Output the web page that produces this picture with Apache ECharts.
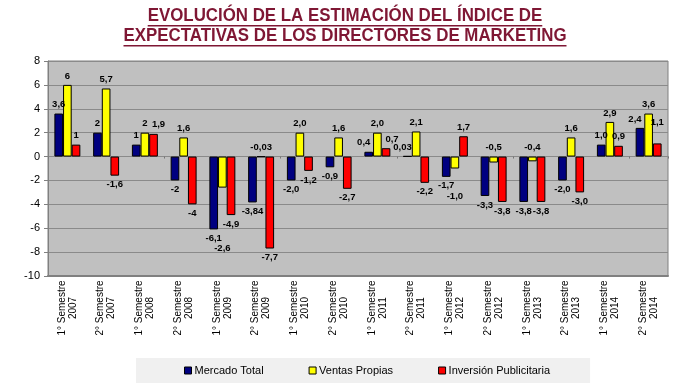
<!DOCTYPE html>
<html>
<head>
<meta charset="utf-8">
<script src="https://cdn.jsdelivr.net/npm/echarts@6/dist/echarts.min.js"></script>
<style>
html,body{margin:0;padding:0;background:#fff;}
#chart{width:690px;height:392px;}
</style>
</head>
<body>
<div id="chart"></div>
<script>
const titleLines = ['EVOLUCIÓN DE LA ESTIMACIÓN DEL ÍNDICE DE', 'EXPECTATIVAS DE LOS DIRECTORES DE MARKETING'];
const categories = [
  '1° Semestre\n2007','2° Semestre\n2007','1° Semestre\n2008','2° Semestre\n2008',
  '1° Semestre\n2009','2° Semestre\n2009','1° Semestre\n2010','2° Semestre\n2010',
  '1° Semestre\n2011','2° Semestre\n2011','1° Semestre\n2012','2° Semestre\n2012',
  '1° Semestre\n2013','2° Semestre\n2013','1° Semestre\n2014','2° Semestre\n2014'
];
const seriesNames = ['Mercado Total', 'Ventas Propias', 'Inversión Publicitaria'];
const mercadoTotal = [3.6, 2, 1, -2, -6.1, -3.84, -2.0, -0.9, 0.4, 0.03, -1.7, -3.3, -3.8, -2.0, 1.0, 2.4];
const ventasPropias = [6, 5.7, 2, 1.6, -2.6, -0.03, 2.0, 1.6, 2.0, 2.1, -1.0, -0.5, -0.4, 1.6, 2.9, 3.6];
const inversionPublicitaria = [1, -1.6, 1.9, -4, -4.9, -7.7, -1.2, -2.7, 0.7, -2.2, 1.7, -3.8, -3.8, -3.0, 0.9, 1.1];
const mercadoLabels = ['3,6','2','1','-2','-6,1','-3,84','-2,0','-0,9','0,4','0,03','-1,7','-3,3','-3,8','-2,0','1,0','2,4'];
const ventasLabels = ['6','5,7','2','1,6','-2,6','-0,03','2,0','1,6','2,0','2,1','-1,0','-0,5','-0,4','1,6','2,9','3,6'];
const inversionLabels = ['1','-1,6','1,9','-4','-4,9','-7,7','-1,2','-2,7','0,7','-2,2','1,7','-3,8','-3,8','-3,0','0,9','1,1'];
const yTicks = [-10, -8, -6, -4, -2, 0, 2, 4, 6, 8];

// label placement tweaks (style only)
const labelTweaks = {
  '0:8': {offset: [-5, 0]},
  '0:9': {offset: [-5, 0]},
  '0:15': {offset: [-5, 0]},
  '1:4': {offset: [0, 52]},
  '1:5': {position: 'top'},
  '1:10': {offset: [0, 19]},
  '1:11': {position: 'top'},
  '1:12': {position: 'top'},
  '2:2': {offset: [5, 0]},
  '2:8': {offset: [6, 0]},
  '2:15': {offset: [0, -12]}
};

const FONT = 'Arial, "Liberation Sans", sans-serif';
const colors = ['#000080', '#ffff00', '#ff0000'];
const values = [mercadoTotal, ventasPropias, inversionPublicitaria];
const labels = [mercadoLabels, ventasLabels, inversionLabels];

function buildData(si) {
  return values[si].map(function (v, i) {
    const tw = labelTweaks[si + ':' + i] || {};
    return {
      value: v,
      label: {
        position: tw.position || (v >= 0 ? 'top' : 'bottom'),
        offset: tw.offset || [0, 0],
        formatter: labels[si][i]
      }
    };
  });
}

// title (condensed look via horizontal scaling) with underline
const titleSize = 18;
const titleFont = 'bold ' + titleSize + 'px ' + FONT;
const cv = document.createElement('canvas').getContext('2d');
cv.font = titleFont;
const titleTargetWidth = 443;
const sx = titleTargetWidth / cv.measureText(titleLines[1]).width;
const titleColor = '#7f1734';
const titleCenterX = 345;
const lineY = [17, 37];
const graphics = [];
titleLines.forEach(function (t, k) {
  const w = cv.measureText(t).width * sx;
  graphics.push({
    type: 'text', x: titleCenterX - w / 2, y: lineY[k] - titleSize / 2 - 1, scaleX: sx,
    style: {text: t, fill: titleColor, font: titleFont}
  });
  graphics.push({
    type: 'rect', shape: {x: titleCenterX - w / 2, y: lineY[k] + 8, width: w, height: 1.5},
    style: {fill: titleColor}
  });
});

const chart = echarts.init(document.getElementById('chart'), null, {renderer: 'canvas'});
chart.setOption({
  animation: false,
  textStyle: {fontFamily: FONT},
  graphic: graphics,
  grid: {left: 48, right: 22, top: 61, bottom: 116, show: true, backgroundColor: '#c0c0c0', borderColor: '#808080', borderWidth: 1},
  legend: {
    data: seriesNames, left: 136, top: 358,
    padding: [7, 40, 7, 48], backgroundColor: '#f0f0f0',
    itemWidth: 7, itemHeight: 7, itemGap: 45, icon: 'rect',
    textStyle: {fontSize: 11, color: '#000', fontFamily: FONT, padding: [0, 0, 0, -2]},
    itemStyle: {borderColor: '#000', borderWidth: 1}
  },
  xAxis: [{
    type: 'category', data: categories, position: 'bottom',
    axisLine: {onZero: false, lineStyle: {color: '#808080', width: 2}},
    axisTick: {show: false},
    axisLabel: {rotate: 90, align: 'center', verticalAlign: 'middle', margin: 32, fontSize: 10, lineHeight: 11, color: '#000', interval: 0, fontFamily: FONT}
  }, {
    type: 'category', data: categories, position: 'bottom',
    axisLine: {onZero: true, lineStyle: {color: '#8a8a8a'}},
    axisTick: {show: true, length: 2, lineStyle: {color: '#777'}},
    axisLabel: {show: false}
  }],
  yAxis: {
    type: 'value', min: yTicks[0], max: yTicks[yTicks.length - 1], interval: 2,
    axisLine: {show: true, lineStyle: {color: '#808080'}},
    axisTick: {show: true, length: 4, lineStyle: {color: '#808080'}},
    axisLabel: {fontSize: 11, color: '#000', margin: 8, fontFamily: FONT},
    splitLine: {lineStyle: {color: '#8a8a8a'}}
  },
  series: seriesNames.map(function (n, si) {
    return {
      name: n, type: 'bar', xAxisIndex: 0, data: buildData(si),
      barGap: '0%', barCategoryGap: '33%',
      itemStyle: {color: colors[si], borderColor: '#000', borderWidth: 1},
      label: {show: true, fontSize: 9.5, fontWeight: 'bold', color: '#000', distance: 4, fontFamily: FONT}
    };
  })
});
</script>
</body>
</html>
